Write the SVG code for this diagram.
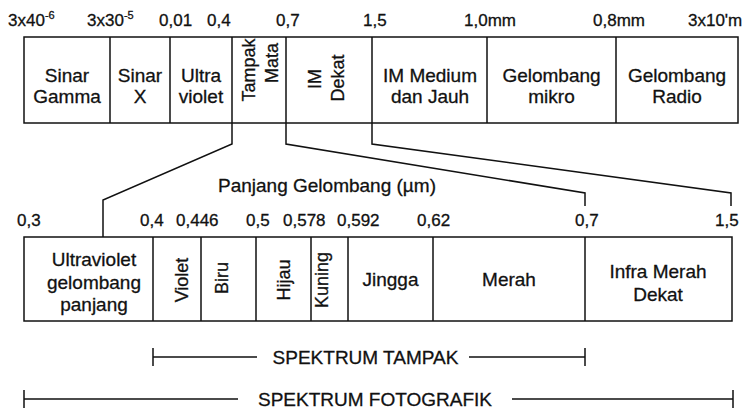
<svg xmlns="http://www.w3.org/2000/svg" width="751" height="414" viewBox="0 0 751 414">
<style>
text{font-family:"Liberation Sans",Arial,sans-serif;fill:#111;stroke:#111;stroke-width:0.3}
.n{font-size:17px}
.b{font-size:19px;text-anchor:middle}
.r{font-size:18px;text-anchor:middle}
.ln{fill:none;stroke:#111;stroke-width:1.5}
.box{fill:#fff;stroke:#111;stroke-width:1.5}
</style>
<rect width="751" height="414" fill="#fff"/>
<g id="top-scale">
<text class="n" x="8" y="26">3x40<tspan font-size="11" dy="-7">-6</tspan></text>
<text class="n" x="87" y="26">3x30<tspan font-size="11" dy="-7">-5</tspan></text>
<text class="n" x="159" y="26">0,01</text>
<text class="n" x="207" y="26">0,4</text>
<text class="n" x="276" y="26">0,7</text>
<text class="n" x="363" y="26">1,5</text>
<text class="n" x="464" y="26">1,0mm</text>
<text class="n" x="593" y="26">0,8mm</text>
<text class="n" x="688" y="26">3x10'm</text>
</g>
<g id="top-box">
<rect class="box" x="24" y="37" width="714" height="86"/>
<path class="ln" d="M110 37V123M170 37V123M232 37V123M286 37V123M372 37V123M487 37V123M616 37V123"/>
</g>
<g id="sinar-gamma"><text class="b" x="67" y="82">Sinar</text><text class="b" x="67" y="103">Gamma</text></g>
<g id="sinar-x"><text class="b" x="140" y="82">Sinar</text><text class="b" x="140" y="103">X</text></g>
<g id="ultraviolet"><text class="b" x="201" y="82">Ultra</text><text class="b" x="201" y="103">violet</text></g>
<g id="tampak-mata"><text class="r" transform="translate(248,70) rotate(-90)" y="6.5">Tampak</text><text class="r" transform="translate(271,63) rotate(-90)" y="6.5">Mata</text></g>
<g id="im-dekat"><text class="r" transform="translate(314,79) rotate(-90)" y="6.5">IM</text><text class="r" transform="translate(337,78) rotate(-90)" y="6.5">Dekat</text></g>
<g id="im-medium"><text class="b" x="430" y="82">IM Medium</text><text class="b" x="430" y="103">dan Jauh</text></g>
<g id="gelombang-mikro"><text class="b" x="551.5" y="82">Gelombang</text><text class="b" x="551.5" y="103">mikro</text></g>
<g id="gelombang-radio"><text class="b" x="677" y="82">Gelombang</text><text class="b" x="677" y="103">Radio</text></g>
<g id="connectors">
<path class="ln" d="M232 123V144L103 200V237"/>
<path class="ln" d="M286 123V144L585 193V206"/>
<path class="ln" d="M372 123V144L731 193V206"/>
<path class="ln" d="M153 348V366M153 357H257M469 357H585M585 348V366"/>
<path class="ln" d="M24 390V408M24 399H238M512 399H733M733 390V408"/>
</g>
<text class="b" x="327" y="192">Panjang Gelombang (µm)</text>
<g id="bottom-scale">
<text class="n" x="17" y="226">0,3</text>
<text class="n" x="140" y="226">0,4</text>
<text class="n" x="176" y="226">0,446</text>
<text class="n" x="246" y="226">0,5</text>
<text class="n" x="283" y="226">0,578</text>
<text class="n" x="337" y="226">0,592</text>
<text class="n" x="417" y="226">0,62</text>
<text class="n" x="575" y="226">0,7</text>
<text class="n" x="715" y="226">1,5</text>
</g>
<g id="bottom-box">
<rect class="box" x="24" y="237" width="708" height="84"/>
<path class="ln" d="M153 237V321M201 237V321M256 237V321M311 237V321M348 237V321M433 237V321"/>
<path class="ln" stroke-width="2.2" d="M585 237V321"/>
</g>
<g id="uv-panjang"><text class="b" x="94" y="266">Ultraviolet</text><text class="b" x="94" y="289">gelombang</text><text class="b" x="94" y="311">panjang</text></g>
<g id="violet"><text class="r" transform="translate(181,280) rotate(-90)" y="6.5">Violet</text></g>
<g id="biru"><text class="r" transform="translate(221,278) rotate(-90)" y="6.5">Biru</text></g>
<g id="hijau"><text class="r" transform="translate(283,280) rotate(-90)" y="6.5">Hijau</text></g>
<g id="kuning"><text class="r" transform="translate(321,280) rotate(-90)" y="6.5">Kuning</text></g>
<g id="jingga"><text class="b" x="390.5" y="286">Jingga</text></g>
<g id="merah"><text class="b" x="509" y="286">Merah</text></g>
<g id="infra-merah"><text class="b" x="658" y="278">Infra Merah</text><text class="b" x="658" y="301">Dekat</text></g>
<g id="spektrum-tampak"><text class="b" x="365.5" y="364">SPEKTRUM TAMPAK</text></g>
<g id="spektrum-fotografik"><text class="b" x="375" y="406">SPEKTRUM FOTOGRAFIK</text></g>
</svg>
